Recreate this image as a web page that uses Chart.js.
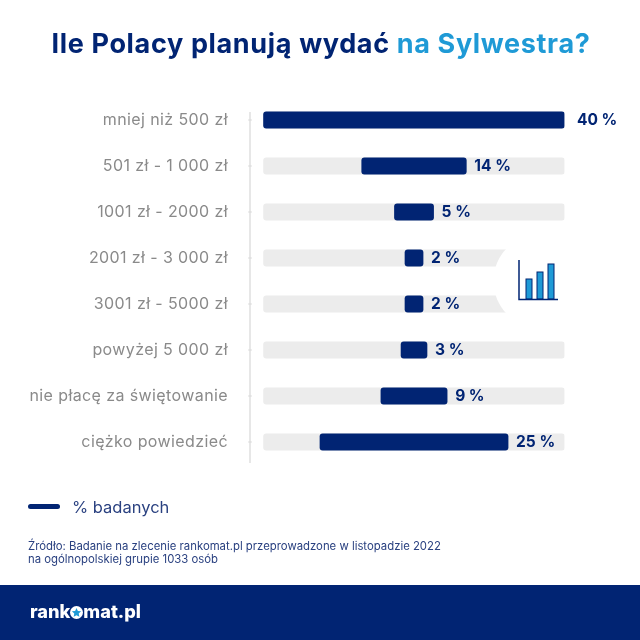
<!DOCTYPE html>
<html lang="pl">
<head>
<meta charset="utf-8">
<title>Ile Polacy planują wydać na Sylwestra?</title>
<script src="https://cdn.jsdelivr.net/npm/chart.js@4"></script>
<style>
  html, body { margin: 0; padding: 0; background: #fff; }
  #page { position: relative; width: 640px; height: 640px; overflow: hidden; font-family: Inter, sans-serif; color: #012473; }
  #page > * { position: absolute; }
  canvas { left: 0; top: 0; }
  h1 { left: 1px; width: 640px; top: 26px; margin: 0; text-align: center; font-size: 27px; line-height: 36px; font-weight: 700; letter-spacing: 0.65px; white-space: nowrap; }
  h1 span { color: #1f9ad6; }
  #icon { left: 0; top: 0; }
  #legend-line { left: 28px; top: 504px; width: 32px; height: 5px; border-radius: 3px; background: #012473; }
  #legend-text { left: 72px; top: 497px; font-size: 16.5px; line-height: 20px; color: #2a4180; }
  #source { left: 28px; top: 540px; font-size: 11.35px; line-height: 13px; color: #2a4180; white-space: nowrap; }
  #footer { left: 0; top: 585px; width: 640px; height: 55px; background: #012473; }
  #logo { left: 30px; top: 598px; font-size: 18.2px; line-height: 26px; font-weight: 800; color: #fff; white-space: nowrap; }
  #logo svg { vertical-align: -1px; }
</style>
</head>
<body>
<div id="page">
  <canvas id="chart" width="640" height="640"></canvas>
  <h1>Ile Polacy planują wydać <span>na Sylwestra?</span></h1>
  <svg id="icon" width="640" height="640">
    <circle cx="541" cy="281" r="47.5" fill="#fff"/>
    <g fill="#1f9ad6" stroke="#012473" stroke-width="1">
      <rect x="526" y="279" width="6" height="20"/>
      <rect x="537" y="272" width="6" height="27"/>
      <rect x="548" y="264" width="6" height="35"/>
    </g>
    <path d="M519 260V299.5H558" fill="none" stroke="#012473" stroke-width="1.5"/>
  </svg>
  <div id="legend-line"></div>
  <div id="legend-text">% badanych</div>
  <div id="source">Źródło: Badanie na zlecenie rankomat.pl przeprowadzone w listopadzie 2022<br>na ogólnopolskiej grupie 1033 osób</div>
  <div id="footer"></div>
  <div id="logo">rank<svg width="13" height="13" viewBox="0 0 20 20"><circle cx="10" cy="10" r="10" fill="#fff"/><path d="M10 3l2.100 4.600 5 .6-3.700 3.400 1 5L10 14.100 5.600 16.600l1-5L2.900 8.200l5-.6z" fill="#1f9ad6"/></svg>mat.pl</div>
</div>
<script>
const categories = ['mniej niż 500 zł', '501 zł - 1 000 zł', '1001 zł - 2000 zł', '2001 zł - 3 000 zł', '3001 zł - 5000 zł', 'powyżej 5 000 zł', 'nie płacę za świętowanie', 'ciężko powiedzieć'];
const values = [40, 14, 5, 2, 2, 3, 9, 25];
// widths of the drawn bars, small ones are a bit wider than their value
const drawnWidths = [40, 13.9, 5.2, 2.4, 2.4, 3.45, 8.8, 25];
const axisMax = 40;
const axisCenter = 20;

const valueLabels = {
  id: 'valueLabels',
  afterDatasetsDraw(chart) {
    const ctx = chart.ctx;
    ctx.save();
    ctx.letterSpacing = '0px';
    ctx.font = '700 15.5px Inter, sans-serif';
    ctx.fillStyle = '#012473';
    ctx.textBaseline = 'middle';
    chart.getDatasetMeta(0).data.forEach((bar, i) => {
      // the full width bar has its label a little further out
      const gap = drawnWidths[i] === axisMax ? 12.5 : 8;
      ctx.fillText(values[i] + ' %', bar.x + gap, bar.y + 0.5);
    });
    ctx.restore();
  }
};

// the axis line stops short of the top of the plot and has small dots at the ticks
const axisLine = {
  id: 'axisLine',
  beforeDraw(chart) {
    // wider tick labels, the canvas state is lost when chart.js sizes the canvas
    chart.ctx.letterSpacing = '0.4px';
  },
  beforeDatasetsDraw(chart) {
    const ctx = chart.ctx;
    const y = chart.scales.y;
    ctx.save();
    ctx.fillStyle = '#e0e0e0';
    ctx.fillRect(y.right - 0.75, y.getPixelForTick(0) - 8, 1.5, y.bottom - 2 - y.getPixelForTick(0) + 8);
    y.ticks.forEach((t, i) => ctx.fillRect(y.right - 1.5, y.getPixelForTick(i) - 1, 3, 2));
    ctx.restore();
  }
};

new Chart(document.getElementById('chart'), {
  type: 'bar',
  plugins: [valueLabels, axisLine],
  data: {
    labels: categories,
    datasets: [
      {
        label: '% badanych',
        data: drawnWidths.map(w => [axisCenter - w / 2, axisCenter + w / 2]),
        backgroundColor: '#012473'
      },
      {
        label: 'tło',
        data: categories.map(() => [0, axisMax]),
        backgroundColor: '#ececec'
      }
    ]
  },
  options: {
    indexAxis: 'y',
    responsive: false,
    animation: false,
    grouped: false,
    barThickness: 16.5,
    borderRadius: 3,
    borderSkipped: false,
    layout: { padding: { top: 97, bottom: 175, right: 75.5, left: 0 } },
    plugins: { legend: { display: false }, title: { display: false }, tooltip: { enabled: false } },
    scales: {
      x: { display: false, min: -1.8, max: axisMax },
      y: {
        afterFit(axis) { axis.width = 250; },
        border: { display: false },
        grid: { drawOnChartArea: false, drawTicks: false },
        ticks: {
          color: '#8a8a8a',
          padding: 22,
          font: { family: 'Inter, sans-serif', size: 16 }
        }
      }
    }
  }
});
</script>
</body>
</html>
